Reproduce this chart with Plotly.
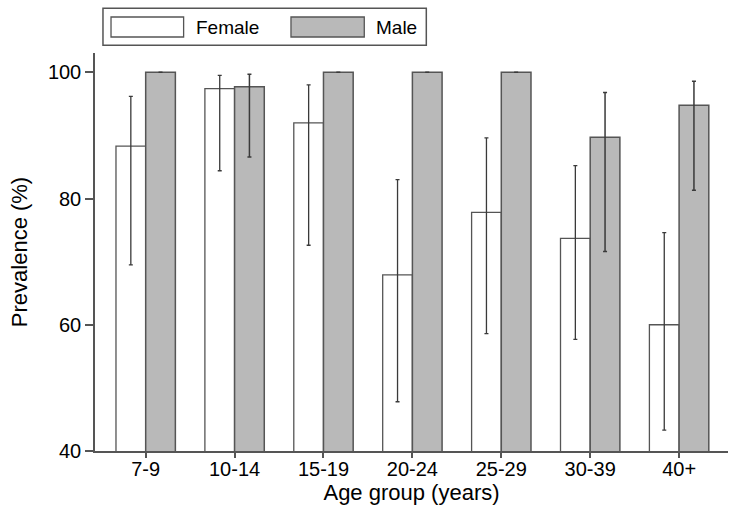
import plotly.graph_objects as go

age_groups = ["7-9", "10-14", "15-19", "20-24", "25-29", "30-39", "40+"]
female = [88.3, 97.4, 92.0, 67.9, 77.8, 73.7, 60.0]
female_upper = [96.2, 99.5, 98.0, 83.0, 89.6, 85.2, 74.6]
female_lower = [69.5, 84.4, 72.6, 47.8, 58.6, 57.7, 43.3]
male = [100, 97.7, 100, 100, 100, 89.7, 94.8]
male_upper = [100, 99.7, 100, 100, 100, 96.8, 98.6]
male_lower = [100, 86.6, 100, 100, 100, 71.6, 81.3]
y_ticks = [40, 60, 80, 100]
legend_names = ["Female", "Male"]

FONT = "Liberation Sans, Arial, sans-serif"
GRAY = "#b9b9b9"
EDGE = "#555555"
ERR = "#3a3a3a"

fig = go.Figure()
fig.add_trace(go.Bar(
    x=age_groups, y=female, name=legend_names[0], showlegend=False,
    marker=dict(color="white", line=dict(color=EDGE, width=1.3)),
    error_y=dict(type="data", symmetric=False,
                 array=[u - v for u, v in zip(female_upper, female)],
                 arrayminus=[v - l for v, l in zip(female, female_lower)],
                 color=ERR, thickness=1.3, width=2),
))
fig.add_trace(go.Bar(
    x=age_groups, y=male, name=legend_names[1], showlegend=False,
    marker=dict(color=GRAY, line=dict(color=EDGE, width=1.5)),
    error_y=dict(type="data", symmetric=False,
                 array=[u - v for u, v in zip(male_upper, male)],
                 arrayminus=[v - l for v, l in zip(male, male_lower)],
                 color=ERR, thickness=1.5, width=2),
))

# manual legend (box + swatches + labels), in paper coordinates
shapes = [
    dict(type="rect", xref="paper", yref="paper", x0=0.0126, x1=0.5234, y0=1.0194, y1=1.1124,
         line=dict(color=EDGE, width=1.5), fillcolor="white", layer="above"),
    dict(type="rect", xref="paper", yref="paper", x0=0.0253, x1=0.140, y0=1.0402, y1=1.0905,
         line=dict(color=EDGE, width=1.3), fillcolor="white", layer="above"),
    dict(type="rect", xref="paper", yref="paper", x0=0.3096, x1=0.4254, y0=1.0402, y1=1.0905,
         line=dict(color=EDGE, width=1.3), fillcolor=GRAY, layer="above"),
]
annotations = [
    dict(text=legend_names[0], xref="paper", yref="paper", x=0.156, y=1.0646,
         xanchor="left", yanchor="middle", showarrow=False,
         font=dict(family=FONT, size=19, color="black")),
    dict(text=legend_names[1], xref="paper", yref="paper", x=0.4400, y=1.0646,
         xanchor="left", yanchor="middle", showarrow=False,
         font=dict(family=FONT, size=19, color="black")),
]

fig.update_layout(
    width=736, height=517,
    margin=dict(l=95, r=8, t=53, b=66, pad=0),
    paper_bgcolor="white", plot_bgcolor="white",
    barmode="group", bargap=0.332, bargroupgap=0,
    font=dict(family=FONT, color="black"),
    shapes=shapes, annotations=annotations,
    showlegend=False,
)
fig.update_xaxes(
    range=[-0.57, 6.55], showline=True, linecolor=EDGE, linewidth=1.5,
    ticks="outside", ticklen=5, tickcolor=EDGE, tickwidth=1.5,
    ticklabelstandoff=-6,
    tickfont=dict(family=FONT, size=20, color="black"),
    title=dict(text="Age group (years)", font=dict(family=FONT, size=22, color="black"), standoff=4),
    showgrid=False, zeroline=False,
)
fig.update_yaxes(
    range=[40, 103.06], showline=True, linecolor=EDGE, linewidth=1.5,
    tickvals=y_ticks, ticks="outside", ticklen=8, tickcolor=EDGE, tickwidth=1.5,
    tickfont=dict(family=FONT, size=20, color="black"),
    title=dict(text="Prevalence (%)", font=dict(family=FONT, size=22, color="black"), standoff=14),
    showgrid=False, zeroline=False,
)

fig.write_html("out.html", config={"displayModeBar": False},
               post_script="document.body.style.margin='0px';document.body.style.overflow='hidden';")
